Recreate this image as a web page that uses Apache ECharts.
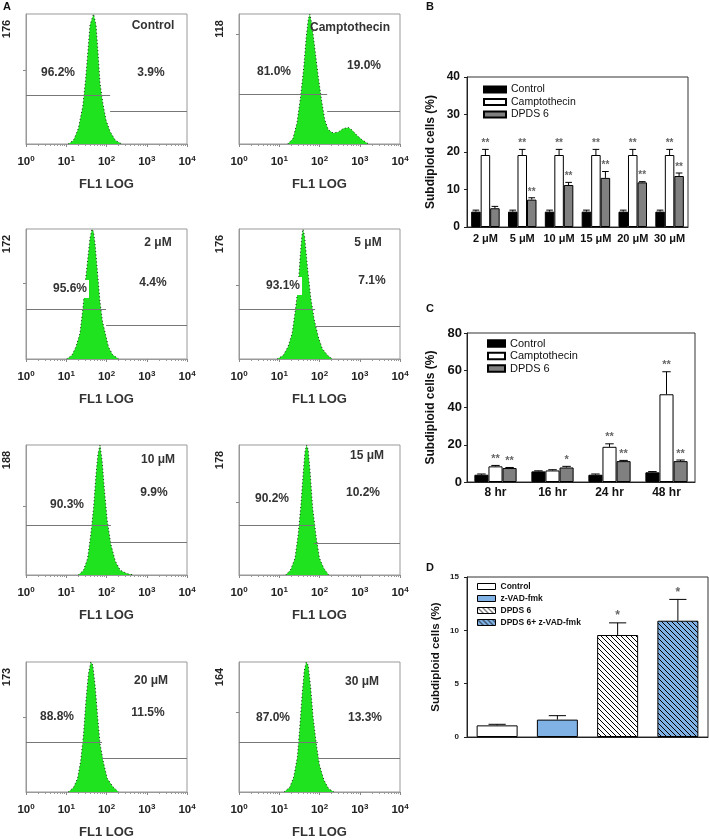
<!DOCTYPE html>
<html><head><meta charset="utf-8">
<script src="https://cdn.jsdelivr.net/npm/echarts@6/dist/echarts.min.js"></script>
<style>html,body{margin:0;padding:0;background:#fff}#c{width:709px;height:840px}</style>
</head><body><div id="c"></div>
<script>
// ================= DATA =================
// Panel A: flow cytometry histograms (x = log10 FL1, y = count)
const histTitles = ['Control','Camptothecin','2 μM','5 μM','10 μM','15 μM','20 μM','30 μM'];
const histYMax   = [176,118,172,176,188,178,173,164];
const pctLeft    = ['96.2%','81.0%','95.6%','93.1%','90.3%','90.2%','88.8%','87.0%'];
const pctRight   = ['3.9%','19.0%','4.4%','7.1%','9.9%','10.2%','11.5%','13.3%'];
const xTickBase = '10';
const xTickExp  = ['0','1','2','3','4'];
const histControl = [[1.05,0],[1.18,5],[1.30,21],[1.41,51],[1.48,87],[1.54,127],[1.59,161],[1.64,170],[1.68,176],[1.74,161],[1.79,123],[1.84,82],[1.91,55],[1.99,32],[2.09,17],[2.22,5],[2.38,0]];
const histCampto  = [[1.21,0],[1.34,5],[1.44,19],[1.53,43],[1.61,70],[1.67,97],[1.72,113],[1.76,118],[1.81,109],[1.88,88],[1.97,61],[2.05,40],[2.13,22],[2.22,13],[2.34,10],[2.47,11],[2.59,14],[2.72,15],[2.80,13],[2.93,8],[3.05,4],[3.22,0]];
const hist2uM  = [[1.01,0],[1.14,5],[1.24,16],[1.34,34],[1.41,65],[1.47,100],[1.53,130],[1.59,160],[1.64,172],[1.68,168],[1.72,150],[1.76,125],[1.80,100],[1.84,75],[1.90,50],[1.97,34],[2.05,16],[2.15,6],[2.30,0]];
const hist5uM  = [[0.95,0],[1.10,5],[1.22,17],[1.32,35],[1.40,66],[1.47,98],[1.52,139],[1.56,166],[1.59,176],[1.63,166],[1.70,125],[1.78,84],[1.87,53],[1.97,30],[2.07,14],[2.20,5],[2.32,0]];
const hist10uM = [[1.30,0],[1.43,7],[1.53,24],[1.61,59],[1.68,98],[1.74,146],[1.79,176],[1.84,188],[1.89,166],[1.95,122],[2.02,78],[2.11,44],[2.22,20],[2.34,7],[2.51,2],[2.67,0]];
const hist15uM = [[1.16,0],[1.28,7],[1.39,23],[1.47,55],[1.54,97],[1.60,143],[1.64,169],[1.68,178],[1.72,171],[1.77,139],[1.83,92],[1.92,51],[2.00,23],[2.11,9],[2.23,0]];
const hist20uM = [[1.05,0],[1.18,6],[1.28,18],[1.36,42],[1.43,78],[1.49,122],[1.55,157],[1.61,173],[1.66,169],[1.72,140],[1.78,100],[1.84,64],[1.93,38],[2.02,18],[2.16,7],[2.30,0]];
const hist30uM = [[1.12,0],[1.26,6],[1.36,19],[1.45,44],[1.51,82],[1.57,124],[1.62,153],[1.67,164],[1.72,160],[1.78,132],[1.84,95],[1.92,61],[2.00,34],[2.11,15],[2.23,4],[2.36,0]];
const histAll = [histControl,histCampto,hist2uM,hist5uM,hist10uM,hist15uM,hist20uM,hist30uM];
// gate markers (M1 left, M2 right), in data units
const gateSplit = [2.09,2.19,1.99,1.89,2.11,1.86,1.89,1.96];
const gateLeft  = [66,45,66,68,72,68,66,63];
const gateRight = [45,30,44,45,47,44,45,43];

// Panel B: concentration
const catB = ['2 μM','5 μM','10 μM','15 μM','20 μM','30 μM'];
const ctrlB = [4.1,4.1,4.1,4.1,4.1,4.1];
const ctrlBErr = [0.4,0.4,0.4,0.4,0.4,0.4];
const camptoB = [19.2,19.2,19.2,19.2,19.2,19.2];
const camptoBErr = [1.5,1.5,1.5,1.5,1.5,1.5];
const dpdsB = [5.0,7.3,11.2,13.1,11.9,13.6];
const dpdsBErr = [0.5,0.5,0.7,1.7,0.2,0.8];
const sigCamptoB = ['**','**','**','**','**','**'];
const sigDpdsB = ['','**','**','**','**','**'];

// Panel C: time
const catC = ['8 hr','16 hr','24 hr','48 hr'];
const ctrlC = [3.9,5.7,3.9,5.2];
const ctrlCErr = [0.4,0.3,0.4,0.4];
const camptoC = [8.4,6.2,18.9,47.1];
const camptoCErr = [0.5,0.4,1.6,12.1];
const dpdsC = [7.5,7.8,11.2,11.2];
const dpdsCErr = [0.3,0.6,0.4,0.6];
const sigCamptoC = ['**','','**','**'];
const sigDpdsC = ['**','*','**','**'];

// Panel D: caspase inhibitor
const catD = ['Control','z-VAD-fmk','DPDS 6','DPDS 6+ z-VAD-fmk'];
const valD = [1.09,1.63,9.56,10.9];
const errD = [0.1,0.37,1.14,2.0];
const sigD = ['','','*','*'];

// ================= LAYOUT / STYLE =================
const FF = 'Liberation Sans, Arial, sans-serif';
const colLeft = [26,239], rowTop = [14,229,445,662], PW = 161, PH = 130;
const titlePos = [[127,12],[111,14],[132,14],[129,14],[132,15],[128,11],[125,19],[123,20]];
const leftPos  = [[32,59],[35,58],[44,60],[44,57],[41,60],[33,54],[31,55],[34,56]];
const rightPos = [[125,59],[125,52],[127,54],[133,52],[128,48],[124,48],[122,51],[126,56]];
const GREEN = '#1fe31f', BLUE = '#80b2e6';

function hatch(bg) {
  const s = 5, c = document.createElement('canvas'); c.width = s; c.height = s;
  const g = c.getContext('2d'); g.fillStyle = bg; g.fillRect(0,0,s,s);
  g.strokeStyle = '#000'; g.lineWidth = 1;
  g.beginPath();
  g.moveTo(-1,-1); g.lineTo(s+1,s+1);
  g.moveTo(-1,s-1); g.lineTo(1,s+1);
  g.moveTo(s-1,-1); g.lineTo(s+1,1);
  g.stroke();
  return {image: c, repeat: 'repeat'};
}

const minorTicks = [];
for (let n = 0; n < 4; n++) for (let k = 2; k <= 9; k++) minorTicks.push(n + Math.log10(k));

const grids = [], xAxes = [], yAxes = [], series = [], graphics = [];

histAll.forEach((h, i) => {
  const gx = colLeft[i % 2], gy = rowTop[Math.floor(i / 2)];
  grids.push({left: gx, top: gy, width: PW, height: PH, show: true, borderColor: '#999', borderWidth: 1, outerBoundsMode: 'none'});
  xAxes.push({gridIndex: i, type: 'value', min: 0, max: 4, interval: 1, position: 'bottom',
    axisLine: {lineStyle: {color: '#999'}}, axisTick: {length: 3, lineStyle: {color: '#888'}},
    axisLabel: {margin: 11, formatter: v => '{b|' + xTickBase + '}{s|' + xTickExp[v] + '}',
      rich: {
        b: {fontSize: 11.5, fontWeight: 'bold', color: '#222', fontFamily: FF, lineHeight: 13, verticalAlign: 'bottom'},
        s: {fontSize: 8, fontWeight: 'bold', color: '#222', fontFamily: FF, lineHeight: 13, verticalAlign: 'top'}
      }},
    splitLine: {show: false},
    name: 'FL1 LOG', nameLocation: 'middle', nameGap: 34,
    nameTextStyle: {fontSize: 13, fontWeight: 'bold', color: '#333', fontFamily: FF}});
  xAxes.push({gridIndex: i, type: 'value', min: 0, max: 4, position: 'bottom',
    axisLine: {show: false}, axisTick: {show: true, length: 2, customValues: minorTicks, lineStyle: {color: '#999'}},
    axisLabel: {show: false}, splitLine: {show: false}});
  yAxes.push({gridIndex: i, type: 'value', min: 0, max: histYMax[i],
    axisLine: {show: true, lineStyle: {color: '#999'}},
    axisTick: {show: true, length: 3, customValues: [100], lineStyle: {color: '#888'}},
    axisLabel: {show: false}, splitLine: {show: false}});
  series.push({type: 'line', xAxisIndex: 2 * i, yAxisIndex: i, data: h, showSymbol: false, symbol: 'none',
    silent: true, z: 2,
    lineStyle: {color: '#222', width: 1, type: [1, 2.5]},
    areaStyle: {color: GREEN, opacity: 1},
    markLine: {silent: true, symbol: 'none', animation: false, label: {show: false},
      lineStyle: {color: '#777', width: 1, type: 'solid'}, emphasis: {disabled: true},
      data: [[{coord: [0, gateLeft[i]]}, {coord: [gateSplit[i], gateLeft[i]]}],
             [{coord: [gateSplit[i], gateRight[i]]}, {coord: [4, gateRight[i]]}]]}});
  const tf = 'bold 12px ' + FF;
  graphics.push({type: 'text', x: gx + titlePos[i][0], y: gy + titlePos[i][1], z: 100,
    style: {text: histTitles[i], font: tf, fill: '#333', align: 'center', verticalAlign: 'middle'}});
  graphics.push({type: 'text', x: gx + leftPos[i][0], y: gy + leftPos[i][1], z: 100,
    style: {text: pctLeft[i], font: tf, fill: '#333', align: 'center', verticalAlign: 'middle', backgroundColor: '#fff', padding: [3, 2]}});
  graphics.push({type: 'text', x: gx + rightPos[i][0], y: gy + rightPos[i][1], z: 100,
    style: {text: pctRight[i], font: tf, fill: '#333', align: 'center', verticalAlign: 'middle'}});
  graphics.push({type: 'text', x: gx - 19, y: gy + 15, rotation: Math.PI / 2, z: 100,
    style: {text: String(histYMax[i]), font: 'bold 11px ' + FF, fill: '#222', align: 'center', verticalAlign: 'middle'}});
});

// letters
[['A', 3, 1], ['B', 426, 1], ['C', 426, 303], ['D', 426, 562]].forEach(([t, x, y]) => {
  graphics.push({type: 'text', x, y, z: 100, style: {text: t, font: 'bold 11px ' + FF, fill: '#111'}});
});

// ---- helper for error bars ----
function errSeries(xi, yi, vals, errs, sigs, slot, nSlots, barFrac, capFrac, sigFont) {
  return {
    type: 'custom', xAxisIndex: xi, yAxisIndex: yi, z: 5, silent: true,
    data: vals.map((v, i) => [i, v + errs[i]]),
    renderItem: (params, api) => {
      const i = params.dataIndex;
      const band = api.size([1, 0])[0];
      const bw = band * barFrac;
      const off = (slot - (nSlots - 1) / 2) * bw;
      const base = api.coord([i, vals[i]]);
      const cx = base[0] + off;
      const yTop = base[1];
      const yCap = api.coord([i, vals[i] + errs[i]])[1];
      const cw = bw * capFrac / 2;
      const children = [
        {type: 'line', shape: {x1: cx, y1: yTop, x2: cx, y2: yCap}, style: {stroke: '#000', lineWidth: 1}},
        {type: 'line', shape: {x1: cx - cw, y1: yCap, x2: cx + cw, y2: yCap}, style: {stroke: '#000', lineWidth: 1}}
      ];
      if (sigs && sigs[i]) children.push({type: 'text', x: cx, y: yCap - 1,
        style: {text: sigs[i], font: sigFont, fill: '#666', align: 'center', verticalAlign: 'bottom'}});
      return {type: 'group', children};
    }
  };
}

const barBase = {type: 'bar', barGap: '0%', silent: true};
const frameAxisColor = '#222';

// ---- Panel B ----
grids.push({left: 467, top: 77, width: 221, height: 150, show: true, borderColor: '#333', borderWidth: 1, outerBoundsMode: 'none'});
xAxes.push({gridIndex: 8, type: 'category', data: catB, axisLine: {lineStyle: {color: frameAxisColor}}, axisTick: {show: false},
  axisLabel: {margin: 6, fontSize: 11, fontWeight: 'bold', color: '#111', fontFamily: FF, interval: 0}});
yAxes.push({gridIndex: 8, type: 'value', min: 0, max: 40, interval: 10,
  axisLine: {show: true, lineStyle: {color: frameAxisColor}}, axisTick: {show: true, length: 3, lineStyle: {color: frameAxisColor}},
  axisLabel: {margin: 7, fontSize: 12, fontWeight: 'bold', color: '#111', fontFamily: FF}, splitLine: {show: false},
  name: 'Subdiploid cells (%)', nameLocation: 'middle', nameGap: 30,
  nameTextStyle: {fontSize: 12, fontWeight: 'bold', color: '#111', fontFamily: FF}});
const bwB = 0.258;
series.push(Object.assign({}, barBase, {name: 'Control', xAxisIndex: 16, yAxisIndex: 8, data: ctrlB, barWidth: (bwB * 100) + '%', itemStyle: {color: '#000', borderColor: '#000', borderWidth: 1}}));
series.push(Object.assign({}, barBase, {name: 'Camptothecin', xAxisIndex: 16, yAxisIndex: 8, data: camptoB, barWidth: (bwB * 100) + '%', itemStyle: {color: '#fff', borderColor: '#000', borderWidth: 1}}));
series.push(Object.assign({}, barBase, {name: 'DPDS 6', xAxisIndex: 16, yAxisIndex: 8, data: dpdsB, barWidth: (bwB * 100) + '%', itemStyle: {color: '#808080', borderColor: '#000', borderWidth: 1}}));
series.push(errSeries(16, 8, ctrlB, ctrlBErr, null, 0, 3, bwB, 0.7, 'bold 10px ' + FF));
series.push(errSeries(16, 8, camptoB, camptoBErr, sigCamptoB, 1, 3, bwB, 0.7, 'bold 10px ' + FF));
series.push(errSeries(16, 8, dpdsB, dpdsBErr, sigDpdsB, 2, 3, bwB, 0.7, 'bold 10px ' + FF));

// ---- Panel C ----
grids.push({left: 467, top: 333, width: 228, height: 149, show: true, borderColor: '#333', borderWidth: 1, outerBoundsMode: 'none'});
xAxes.push({gridIndex: 9, type: 'category', data: catC, axisLine: {lineStyle: {color: frameAxisColor}}, axisTick: {show: false},
  axisLabel: {margin: 5, fontSize: 12, fontWeight: 'bold', color: '#111', fontFamily: FF, interval: 0}});
yAxes.push({gridIndex: 9, type: 'value', min: 0, max: 80, interval: 20,
  axisLine: {show: true, lineStyle: {color: frameAxisColor}}, axisTick: {show: true, length: 3, lineStyle: {color: frameAxisColor}},
  axisLabel: {margin: 5, fontSize: 13, fontWeight: 'bold', color: '#111', fontFamily: FF}, splitLine: {show: false},
  name: 'Subdiploid cells (%)', nameLocation: 'middle', nameGap: 30,
  nameTextStyle: {fontSize: 12, fontWeight: 'bold', color: '#111', fontFamily: FF}});
const bwC = 0.247;
series.push(Object.assign({}, barBase, {name: 'Control', xAxisIndex: 17, yAxisIndex: 9, data: ctrlC, barWidth: (bwC * 100) + '%', itemStyle: {color: '#000', borderColor: '#000', borderWidth: 1}}));
series.push(Object.assign({}, barBase, {name: 'Camptothecin', xAxisIndex: 17, yAxisIndex: 9, data: camptoC, barWidth: (bwC * 100) + '%', itemStyle: {color: '#fff', borderColor: '#000', borderWidth: 1}}));
series.push(Object.assign({}, barBase, {name: 'DPDS 6', xAxisIndex: 17, yAxisIndex: 9, data: dpdsC, barWidth: (bwC * 100) + '%', itemStyle: {color: '#808080', borderColor: '#000', borderWidth: 1}}));
series.push(errSeries(17, 9, ctrlC, ctrlCErr, null, 0, 3, bwC, 0.6, 'bold 11px ' + FF));
series.push(errSeries(17, 9, camptoC, camptoCErr, sigCamptoC, 1, 3, bwC, 0.6, 'bold 11px ' + FF));
series.push(errSeries(17, 9, dpdsC, dpdsCErr, sigDpdsC, 2, 3, bwC, 0.6, 'bold 11px ' + FF));

// ---- Panel D ----
grids.push({left: 467, top: 577, width: 241, height: 160, show: true, borderColor: '#333', borderWidth: 1, outerBoundsMode: 'none'});
xAxes.push({gridIndex: 10, type: 'category', data: catD, axisLine: {lineStyle: {color: frameAxisColor}}, axisTick: {show: false}, axisLabel: {show: false}});
yAxes.push({gridIndex: 10, type: 'value', min: 0, max: 15, interval: 5,
  axisLine: {show: true, lineStyle: {color: frameAxisColor}}, axisTick: {show: true, length: 3, lineStyle: {color: frameAxisColor}},
  axisLabel: {margin: 8, fontSize: 8, fontWeight: 'bold', color: '#222', fontFamily: FF}, splitLine: {show: false},
  name: 'Subdiploid cells (%)', nameLocation: 'middle', nameGap: 25,
  nameTextStyle: {fontSize: 11.5, fontWeight: 'bold', color: '#111', fontFamily: FF}});
const stylesD = [
  {color: '#fff', borderColor: '#000', borderWidth: 1},
  {color: BLUE, borderColor: '#000', borderWidth: 1},
  {color: hatch('#ffffff'), borderColor: '#000', borderWidth: 1},
  {color: hatch(BLUE), borderColor: '#000', borderWidth: 1}
];
catD.forEach((name, k) => {
  series.push({type: 'bar', name: name, xAxisIndex: 18, yAxisIndex: 10, silent: true, barWidth: '68%', barGap: '-100%',
    data: valD.map((v, j) => j === k ? v : null), itemStyle: stylesD[k]});
});
series.push(errSeries(18, 10, valD, errD, sigD, 0, 1, 0.68, 0.42, 'bold 12px ' + FF));

const option = {
  animation: false,
  backgroundColor: '#fff',
  grid: grids, xAxis: xAxes, yAxis: yAxes, series: series,
  legend: [
    {orient: 'vertical', left: 478, top: 79, itemWidth: 22, itemHeight: 6, itemGap: 1.5, icon: 'rect', selectedMode: false,
      textStyle: {fontSize: 10.5, color: '#111', fontFamily: FF}, data: ['Control', 'Camptothecin', 'DPDS 6']},
    {orient: 'vertical', left: 482, top: 333, itemWidth: 17, itemHeight: 6.5, itemGap: 1.5, icon: 'rect', selectedMode: false,
      textStyle: {fontSize: 11, color: '#111', fontFamily: FF}, data: ['Control', 'Camptothecin', 'DPDS 6']},
    {orient: 'vertical', left: 472, top: 577, itemWidth: 18, itemHeight: 6, itemGap: 3, icon: 'rect', selectedMode: false,
      textStyle: {fontSize: 8.5, fontWeight: 'bold', color: '#111', fontFamily: FF},
      data: catD.map((n, k) => ({name: n, itemStyle: stylesD[k]}))}
  ],
  graphic: {elements: graphics}
};
const chart = echarts.init(document.getElementById('c'));
chart.setOption(option);
</script></body></html>
